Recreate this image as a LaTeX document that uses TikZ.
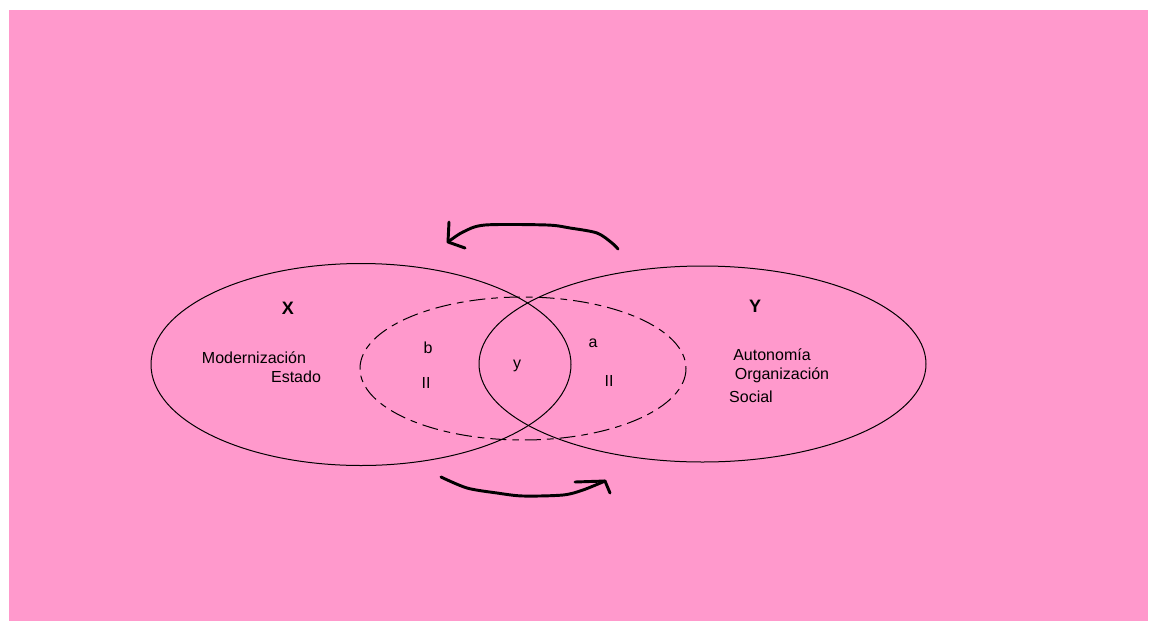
\documentclass[tikz,border=0pt]{standalone}
\usepackage{fontspec}
\setmainfont{Liberation Sans}
\usetikzlibrary{positioning}

\definecolor{fondo}{HTML}{FF99CC}

\begin{document}
\begin{tikzpicture}[x=0.75pt,y=-0.75pt,
    conjunto/.style={draw,line width=0.75pt},
    interseccion/.style={draw,line width=0.75pt,dash pattern=on 12pt off 4.5pt on 5pt off 4.5pt},
    letra/.style={font=\bfseries\fontsize{13.5}{15}\selectfont},
    texto/.style={font=\fontsize{12}{14}\selectfont,inner sep=0pt},
    trazo/.style={line width=2.2pt,line cap=round,line join=round}]
    \useasboundingbox (0,0) rectangle (1157,622);
    \fill[fondo] (9,10) rectangle (1148,621);
    % conjuntos
    \coordinate (cX) at (361,364.5);
    \coordinate (cY) at (702.5,364);
    \coordinate (cI) at (523,368.5);
    \draw[conjunto] (cX) ellipse [x radius=210, y radius=101];
    \draw[conjunto] (cY) ellipse [x radius=223.5, y radius=98];
    \draw[interseccion] (cI) ellipse [x radius=163, y radius=71.5];
    % textos
    \node[letra] (X) at (288,308) {X};
    \node[letra] (Y) at (755,306) {Y};
    \node[texto] (mod) at (254,358) {Modernización};
    \node[texto] (est) at (296,377) {Estado};
    \node[texto] (aut) at (772,355) {Autonomía};
    \node[texto] (org) at (782,375) {Organización};
    \node[texto] (soc) at (751,397) {Social};
    \node[texto] (b) at (428,348) {b};
    \node[texto] (IIb) at (426,383) {II};
    \node[texto] (y) at (517,366) {y};
    \node[texto] (a) at (593,343) {a};
    \node[texto] (IIa) at (609,381) {II};
    % flechas
    \coordinate (arribaIni) at (618,249);
    \coordinate (arribaFin) at (448,242);
    \coordinate (abajoIni) at (441,477);
    \coordinate (abajoFin) at (605,481);
    \draw[trazo] plot[smooth,tension=0.5] coordinates {(arribaIni) (612,243) (597,233) (570,228) (547,225) (485,225) (463,232) (arribaFin)};
    \draw[trazo] (449,222) -- (arribaFin) -- (465,248);
    \draw[trazo] plot[smooth,tension=0.5] coordinates {(abajoIni) (467,488) (497,493) (523,496) (563,495) (583,490) (abajoFin)};
    \draw[trazo] (575,482) -- (abajoFin) -- (610,493);
\end{tikzpicture}
\end{document}
